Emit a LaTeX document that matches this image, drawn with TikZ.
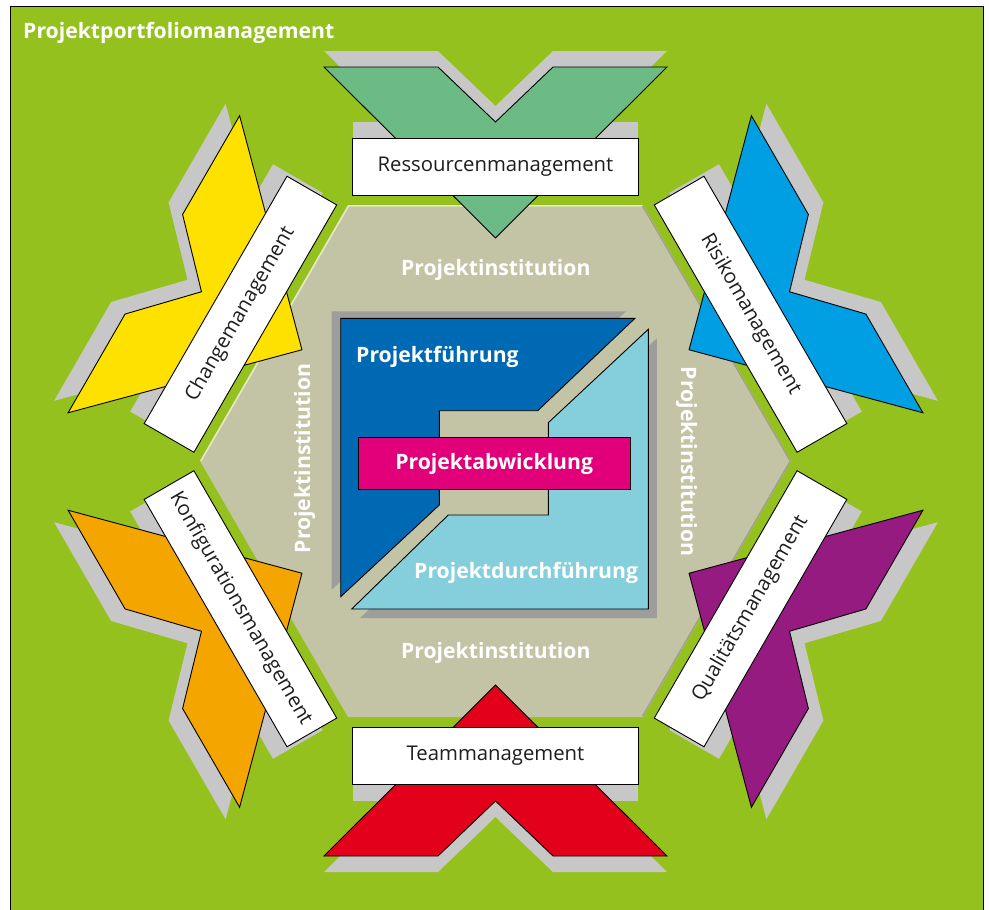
\documentclass[tikz,border=0pt]{standalone}
\usepackage{fontspec}
\setmainfont{Open Sans}
\definecolor{bggreen}{HTML}{95C11F}
\definecolor{shadowgray}{HTML}{C6C7C6}
\definecolor{darkshadow}{HTML}{9D9D9C}
\definecolor{hexfill}{HTML}{C3C4A5}
\definecolor{hexlight}{HTML}{E4E8C4}
\definecolor{hexdark}{HTML}{9E9F8C}
\definecolor{armgreen}{HTML}{6CBB84}
\definecolor{armyellow}{HTML}{FFE100}
\definecolor{armorange}{HTML}{F5A500}
\definecolor{armred}{HTML}{E2001A}
\definecolor{armpurple}{HTML}{951B81}
\definecolor{armblue}{HTML}{009FE3}
\definecolor{fuehrung}{HTML}{0069B4}
\definecolor{durchf}{HTML}{85CFDC}
\definecolor{abwmag}{HTML}{E2007A}
\definecolor{textdark}{HTML}{1E1E1E}
\tikzset{
  armline/.style={draw=black, line width=0.9pt, line join=miter},
  labelbox/.style={draw=black, fill=white, line width=0.9pt, minimum width=285.6pt,
    minimum height=57.4pt, inner sep=0pt, text=textdark, font=\fontsize{20.3}{24}\selectfont},
  boldwhite/.style={text=white, font=\bfseries\fontsize{21.2}{25}\selectfont, inner sep=0pt},
  centershape/.style={draw=black, line width=0.9pt},
}
% #1 rotation, #2 colour, #3/#4 shadow shift, #5 text angle, #6 node name, #7 text
\newcommand{\pmarm}[7]{%
  \begin{scope}[shift={(#3,#4)}]
    \begin{scope}[rotate around={#1:(495.5,461.5)}]
      \fill[shadowgray] (352.7,138.3) rectangle (638.3,195.7);
      \fill[shadowgray] (324,67) -- (438,67) -- (495.5,122) -- (553,67) -- (667,67) -- (495.5,238) -- cycle;
    \end{scope}
  \end{scope}
  \begin{scope}[rotate around={#1:(495.5,461.5)}]
    \filldraw[armline, fill=#2] (324,67) -- (438,67) -- (495.5,122) -- (553,67) -- (667,67) -- (495.5,238) -- cycle;
    \node[labelbox, rotate=#5] (#6) at (495.5,167) {#7};
  \end{scope}
}
\begin{document}
\begin{tikzpicture}[x=1pt,y=-1pt]
\useasboundingbox (0,0) rectangle (989,910);
\fill[white] (0,0) rectangle (989,910);
\filldraw[fill=bggreen, draw=black, line width=0.8pt] (10,6.7) rectangle (983.5,930);
\node[boldwhite, anchor=base west] (title) at (23,38) {Projektportfoliomanagement};

% hexagon
\fill[hexfill] (348,205) -- (643,205) -- (791,461) -- (643,717) -- (348,717) -- (200,461) -- cycle;
\draw[hexlight, line width=1.6pt] (200.8,461) -- (348.5,205.8) -- (642.5,205.8);
\draw[hexdark, line width=1.3pt] (642.5,205.8) -- (790.2,461) -- (642.5,716.2);

% arms
\pmarm{0}{armgreen}{0}{-16}{0}{ressourcen}{Ressourcenmanagement}
\pmarm{60}{armyellow}{-14}{-12}{60}{change}{Changemanagement}
\pmarm{120}{armorange}{-14}{12}{-60}{konfig}{Konfigurationsmanagement}
\pmarm{180}{armred}{0}{16}{0}{team}{Teammanagement}
\pmarm{240}{armpurple}{15}{12}{60}{qualitaet}{Qualitätsmanagement}
\pmarm{300}{armblue}{15}{-12}{-60}{risiko}{Risikomanagement}

% Projektinstitution labels
\node[boldwhite, anchor=base] (instTop) at (495.8,275.8) {Projektinstitution};
\node[boldwhite, anchor=base] (instBottom) at (495.8,658.3) {Projektinstitution};
\node[boldwhite, anchor=base, rotate=90] (instLeft) at (310,458.5) {Projektinstitution};
\node[boldwhite, anchor=base, rotate=-90] (instRight) at (681,461.7) {Projektinstitution};

% centre square
\fill[darkshadow, shift={(-9,-7)}] (340.7,318.3) -- (635,318.3) -- (537.7,410.7) -- (439.3,410.7) -- (439.3,505) -- (340.7,596.7) -- cycle;
\fill[darkshadow, shift={(8.5,9)}] (648.3,329.3) -- (648.3,609) -- (351.7,609) -- (448.3,515) -- (548.3,515) -- (548.3,422.7) -- cycle;
\filldraw[centershape, fill=fuehrung] (340.7,318.3) -- (635,318.3) -- (537.7,410.7) -- (439.3,410.7) -- (439.3,505) -- (340.7,596.7) -- cycle;
\filldraw[centershape, fill=durchf] (648.3,329.3) -- (648.3,609) -- (351.7,609) -- (448.3,515) -- (548.3,515) -- (548.3,422.7) -- cycle;
\node[boldwhite, anchor=base west] (fuehrungtext) at (356,362) {Projektführung};
\node[boldwhite, anchor=base west] (durchtext) at (414,578) {Projektdurchführung};
\node[draw=black, line width=0.9pt, fill=abwmag, minimum width=271.7pt, minimum height=51.6pt,
  inner sep=0pt, text=white, font=\bfseries\fontsize{21.2}{25}\selectfont] (abwicklung) at (494.2,463.5) {Projektabwicklung};
\end{tikzpicture}
\end{document}
